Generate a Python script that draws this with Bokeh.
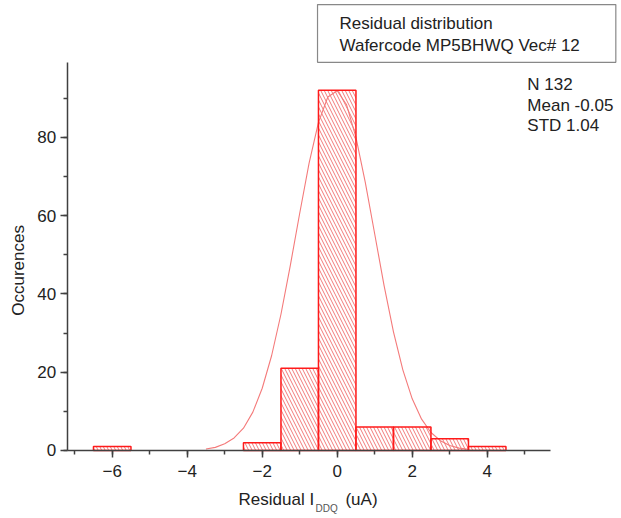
import math
from bokeh.plotting import figure
from bokeh.models import Label, SingleIntervalTicker, Range1d
from bokeh.embed import file_html
from bokeh.resources import INLINE

# Histogram data (bin centers, counts)
bin_centers = [-6, -2, -1, 0, 1, 2, 3, 4]
counts = [1, 2, 21, 92, 6, 6, 3, 1]

# Fitted curve
curve_x = [-3.5, -3.25, -3.0, -2.75, -2.5, -2.25, -2.0, -1.75, -1.5, -1.25, -1.0,
           -0.75, -0.5, -0.25, 0.0, 0.25, 0.5, 0.75, 1.0, 1.25, 1.5, 1.75, 2.0,
           2.25, 2.5, 2.75, 3.0, 3.25, 3.5]
curve_y = [0.4, 0.8, 1.7, 3.2, 5.7, 9.8, 15.9, 24.2, 34.8, 47.3, 60.6,
           73.4, 83.8, 90.3, 91.9, 88.3, 80.0, 68.4, 55.3, 42.1, 30.3, 20.6, 13.2,
           8.0, 4.6, 2.5, 1.3, 0.6, 0.3]

x_bounds = (-7.2, 5.7)
y_bounds = (0, 99)

title_lines = ["Residual distribution", "Wafercode MP5BHWQ Vec# 12"]
stats_lines = ["N 132", "Mean -0.05", "STD 1.04"]

FONT = "Liberation Sans"
TXT = "#222222"
AX = "#404040"

# frame covers the whole canvas; axes are pinned at fixed data locations
p = figure(width=621, height=518, output_backend="svg", toolbar_location=None,
           x_range=Range1d(-8.979, 7.581), y_range=Range1d(-17.37, 114.94),
           min_border=0)
p.outline_line_color = None
p.xgrid.visible = False
p.ygrid.visible = False
p.background_fill_color = "white"
p.border_fill_color = "white"

p.line(curve_x, curve_y, line_color="#f47a7a", line_width=1.1)
p.vbar(x=bin_centers, width=1, top=counts, bottom=0,
       fill_color="white", fill_alpha=0.0,
       line_color="#ff1a1a", line_width=1.5,
       hatch_pattern="\\", hatch_color="#f27a7a", hatch_scale=7, hatch_weight=1)

for ax in (p.xaxis[0], p.yaxis[0]):
    ax.axis_line_color = AX
    ax.axis_line_width = 1.5
    ax.major_tick_line_color = AX
    ax.minor_tick_line_color = AX
    ax.major_tick_line_width = 1.5
    ax.minor_tick_line_width = 1.5
    ax.major_tick_in = 0
    ax.major_tick_out = 7
    ax.minor_tick_in = 0
    ax.minor_tick_out = 4
    ax.major_label_text_font = FONT
    ax.major_label_text_font_size = "17px"
    ax.major_label_text_color = TXT

p.xaxis.fixed_location = y_bounds[0]
p.yaxis.fixed_location = x_bounds[0]
p.xaxis.bounds = x_bounds
p.yaxis.bounds = y_bounds
p.xaxis.ticker = SingleIntervalTicker(interval=2, num_minor_ticks=2)
p.yaxis.ticker = SingleIntervalTicker(interval=20, num_minor_ticks=2)
p.xaxis.major_label_standoff = 8
p.yaxis.major_label_standoff = 4

# y-axis label
p.add_layout(Label(x=-8.50, y=46, text="Occurences", text_font=FONT,
                   text_font_size="17px", text_color=TXT, angle=math.pi / 2,
                   text_align="center", text_baseline="middle"))

# x-axis label with subscript
p.add_layout(Label(x=-2.63, y=-12.6, text="Residual I", text_font=FONT,
                   text_font_size="17px", text_color=TXT, text_baseline="alphabetic"))
p.add_layout(Label(x=-0.58, y=-14.8, text="DDQ", text_font=FONT,
                   text_font_size="10px", text_color="#555555", text_baseline="alphabetic"))
p.add_layout(Label(x=0.22, y=-12.6, text="(uA)", text_font=FONT,
                   text_font_size="17px", text_color=TXT, text_baseline="alphabetic"))

# title box
p.add_layout(Label(x=-0.525, y=113.9, text="\n".join(title_lines), text_font=FONT,
                   text_font_size="17px", text_color=TXT, text_baseline="top",
                   text_line_height=1.2,
                   border_line_color="#888888", border_line_width=1.2,
                   background_fill_color="white",
                   padding=(22, 36, 9, 7)))

# statistics
p.add_layout(Label(x=5.07, y=96.0, text="\n".join(stats_lines), text_font=FONT,
                   text_font_size="17px", text_color=TXT, text_baseline="top",
                   text_line_height=1.1))

open("out.html", "w").write(file_html(p, INLINE))
